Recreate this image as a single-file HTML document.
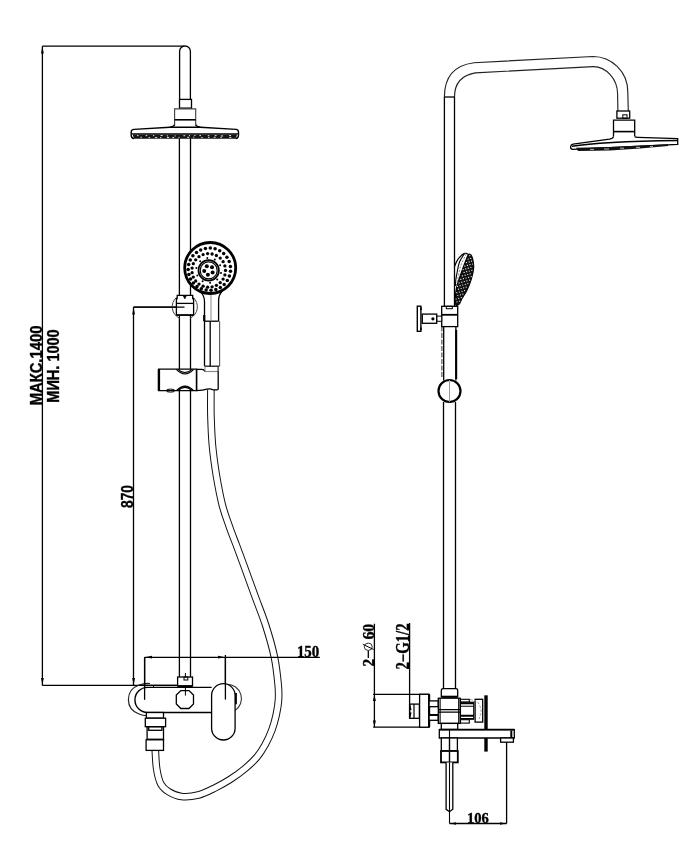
<!DOCTYPE html>
<html><head><meta charset="utf-8"><title>Shower system drawing</title>
<style>
html,body{margin:0;padding:0;background:#fff;width:686px;height:854px;overflow:hidden}
svg{display:block;will-change:transform}
.s{font-family:"Liberation Sans",sans-serif;font-weight:bold}
.r{font-family:"Liberation Serif",serif;font-weight:bold}
</style></head>
<body>
<svg width="686" height="854" viewBox="0 0 686 854">
<rect width="686" height="854" fill="#fff"/>
<g fill="none" stroke="#000" stroke-width="1.3">

<!-- ===== LEFT VIEW ===== -->
<!-- 1400 dimension -->
<path d="M42.4,46.2 H184 M42.4,46.2 V685.4 M42.4,685.4 H177.6"/>
<path d="M153.5,685.4 V687.4" stroke-width="1"/>
<!-- 870 dimension -->
<path d="M133.5,307.2 V685.4 M133.5,307.2 H184.5"/>
<!-- 150 dimension -->


<!-- hose (drawn first, behind) -->
<path id="hose" d="M210.9,388.5 C210.9,392.9 210.7,405.6 210.9,415 C211.2,424.4 211.5,435.0 212.4,445 C213.3,455.0 214.7,465.0 216.3,475 C218.0,485.0 220.1,496.3 222.3,505 C224.5,513.7 227.2,520.3 229.5,527 C231.8,533.7 233.9,538.7 236.3,545 C238.7,551.3 240.6,556.7 243.7,565 C246.8,573.3 250.9,585.0 254.6,595 C258.2,605.0 262.3,614.7 265.6,625 C268.9,635.3 272.3,647.0 274.4,657 C276.5,667.0 277.5,677.8 278.2,685 C278.9,692.2 278.8,695.0 278.5,700 C278.2,705.0 277.3,710.0 276.2,715 C275.1,720.0 273.8,725.0 271.9,730 C270.0,735.0 267.5,740.5 265,745 C262.5,749.5 260.3,753.1 257,757 C253.7,760.9 249.5,764.9 245,768.6 C240.5,772.4 235.0,776.3 230,779.5 C225.0,782.7 220.3,785.3 215,787.9 C209.7,790.5 203.9,793.6 198.3,795 C192.7,796.4 186.4,797.0 181.5,796.5 C176.6,796.0 172.3,793.9 168.8,791.8 C165.3,789.7 162.7,787.5 160.7,783.7 C158.7,779.9 157.6,774.5 156.7,769 C155.8,763.5 155.5,753.6 155.3,750.5" stroke="#111" stroke-width="7.6"/>
<path d="M210.9,388.5 C210.9,392.9 210.7,405.6 210.9,415 C211.2,424.4 211.5,435.0 212.4,445 C213.3,455.0 214.7,465.0 216.3,475 C218.0,485.0 220.1,496.3 222.3,505 C224.5,513.7 227.2,520.3 229.5,527 C231.8,533.7 233.9,538.7 236.3,545 C238.7,551.3 240.6,556.7 243.7,565 C246.8,573.3 250.9,585.0 254.6,595 C258.2,605.0 262.3,614.7 265.6,625 C268.9,635.3 272.3,647.0 274.4,657 C276.5,667.0 277.5,677.8 278.2,685 C278.9,692.2 278.8,695.0 278.5,700 C278.2,705.0 277.3,710.0 276.2,715 C275.1,720.0 273.8,725.0 271.9,730 C270.0,735.0 267.5,740.5 265,745 C262.5,749.5 260.3,753.1 257,757 C253.7,760.9 249.5,764.9 245,768.6 C240.5,772.4 235.0,776.3 230,779.5 C225.0,782.7 220.3,785.3 215,787.9 C209.7,790.5 203.9,793.6 198.3,795 C192.7,796.4 186.4,797.0 181.5,796.5 C176.6,796.0 172.3,793.9 168.8,791.8 C165.3,789.7 162.7,787.5 160.7,783.7 C158.7,779.9 157.6,774.5 156.7,769 C155.8,763.5 155.5,753.6 155.3,750.5" stroke="#fff" stroke-width="5.6"/>

<path d="M144.6,657.4 H319.8 M144.6,657.4 V699.8 M225.4,655 V699.6"/>
<!-- upper pipe with rounded top -->
<path d="M179.6,99.5 V51.4 A5.4,5.4 0 0 1 190.4,51.4 V99.5"/>
<!-- small nut -->
<rect x="179.5" y="99.4" width="12" height="8.7"/>
<!-- wide nut -->
<path d="M174.6,125.2 V108.8 H195.7 V125.2" stroke="#444" stroke-width="1.15"/>
<path d="M174.6,119.8 H195.7" stroke-width="1.6"/>
<path d="M174.6,124.8 Q174,126.6 170,127.2 M195.7,124.8 Q196.3,126.6 200.3,127.2"/>
<!-- disc -->
<path d="M134,138.6 Q131.2,138.2 131.2,135.2 V132 Q131.2,129.6 134,129.4 L170,127.2 H200.3 L236,129.4 Q238.5,129.6 238.5,132 V135.2 Q238.5,138.2 235.7,138.6" fill="#fff" stroke-width="1.4"/>
<path d="M131.5,133.9 H238.3" stroke-width="1.3"/>
<path d="M132.6,134.2 H237.2 L235.7,138.7 H134 Z" fill="#151515" stroke="none"/>
<g fill="#fff" stroke="none">
<rect x="137.0" y="135.2" width="1.5" height="0.9"/>
<rect x="145.7" y="135.2" width="1.6" height="0.9"/>
<rect x="153.0" y="135.2" width="1.2" height="0.9"/>
<rect x="160.6" y="135.0" width="2.0" height="0.9"/>
<rect x="166.8" y="135.4" width="1.1" height="0.9"/>
<rect x="174.6" y="135.5" width="1.1" height="0.9"/>
<rect x="183.4" y="135.3" width="1.8" height="0.9"/>
<rect x="189.0" y="135.2" width="1.0" height="0.9"/>
<rect x="194.3" y="135.0" width="1.2" height="0.9"/>
<rect x="199.4" y="135.2" width="1.6" height="0.9"/>
<rect x="207.8" y="135.3" width="1.6" height="0.9"/>
<rect x="214.8" y="135.2" width="1.8" height="0.9"/>
<rect x="220.9" y="135.5" width="2.2" height="0.9"/>
<rect x="229.2" y="135.1" width="1.8" height="0.9"/>
<rect x="140.5" y="136.7" width="1.3" height="0.9"/>
<rect x="148.6" y="137.2" width="1.5" height="0.9"/>
<rect x="155.1" y="137.2" width="2.1" height="0.9"/>
<rect x="160.1" y="137.2" width="1.3" height="0.9"/>
<rect x="167.0" y="136.9" width="2.2" height="0.9"/>
<rect x="172.3" y="137.2" width="1.8" height="0.9"/>
<rect x="178.4" y="136.9" width="1.1" height="0.9"/>
<rect x="187.2" y="136.8" width="1.9" height="0.9"/>
<rect x="193.2" y="136.7" width="1.1" height="0.9"/>
<rect x="201.4" y="137.0" width="1.2" height="0.9"/>
<rect x="208.2" y="137.1" width="1.2" height="0.9"/>
<rect x="213.7" y="136.8" width="1.8" height="0.9"/>
<rect x="220.4" y="136.9" width="1.3" height="0.9"/>
<rect x="229.3" y="136.9" width="2.0" height="0.9"/>
</g>
<!-- main pipe -->
<path d="M179.4,138.6 V677 M190.5,138.6 V677"/>

<!-- slider bracket -->
<path d="M176.4,297.4 A12.6,12.6 0 0 0 179.5,318.2 M193.2,297.4 A12.6,12.6 0 0 1 190.1,318.2" stroke="#444" stroke-width="1"/>
<path d="M176.4,314.9 V298.6 H177.2 V295.4 H192.7 V298.6 H193.6 V314.9 Z" fill="#fff"/>
<path d="M176.4,303.4 H193.6"/>
<path d="M183.2,295.6 L184.8,298.8 L186.4,295.6 Z" fill="#000" stroke-width="0.8"/>
<path d="M176.4,315.2 H193.6" stroke-width="1.4"/>
<path d="M133.5,307.2 H184.5"/>

<!-- hand shower handle -->
<path d="M199.4,291 Q204.5,295 204.5,301.5 V366.2 M222.3,291 Q218.6,295 218.6,300.5 V321.2" fill="#fff"/>
<path d="M204.5,321.2 H218.6"/>
<path d="M204.2,315 V321.2" stroke-width="2.2"/>
<path d="M211,295 V321.2" stroke="#888" stroke-width="1"/>
<path d="M210.2,321.2 V366.2"/>
<path d="M219.6,321.2 V366.2" stroke="#555" stroke-width="1.1"/>
<!-- hand shower head -->
<circle cx="210.2" cy="268" r="25.5" fill="#fff" stroke-width="2.8"/>
<g id="dots" fill="#000" stroke="none">
<circle cx="230.5" cy="271.3" r="1.75"/>
<circle cx="229.4" cy="276.1" r="1.75"/>
<circle cx="227.3" cy="280.6" r="1.75"/>
<circle cx="224.2" cy="284.4" r="1.75"/>
<circle cx="220.3" cy="287.4" r="1.75"/>
<circle cx="215.8" cy="289.4" r="1.75"/>
<circle cx="211.0" cy="290.3" r="1.75"/>
<circle cx="206.1" cy="290.1" r="1.75"/>
<circle cx="201.3" cy="288.8" r="1.75"/>
<circle cx="197.0" cy="286.4" r="1.75"/>
<circle cx="193.4" cy="283.1" r="1.75"/>
<circle cx="190.6" cy="279.0" r="1.75"/>
<circle cx="188.9" cy="274.4" r="1.75"/>
<circle cx="188.2" cy="269.5" r="1.75"/>
<circle cx="188.7" cy="264.6" r="1.75"/>
<circle cx="190.3" cy="260.0" r="1.75"/>
<circle cx="192.9" cy="255.8" r="1.75"/>
<circle cx="196.5" cy="252.4" r="1.75"/>
<circle cx="200.7" cy="249.9" r="1.75"/>
<circle cx="205.4" cy="248.4" r="1.75"/>
<circle cx="210.3" cy="248.0" r="1.75"/>
<circle cx="215.1" cy="248.8" r="1.75"/>
<circle cx="219.7" cy="250.7" r="1.75"/>
<circle cx="223.7" cy="253.5" r="1.75"/>
<circle cx="226.9" cy="257.3" r="1.75"/>
<circle cx="229.2" cy="261.6" r="1.75"/>
<circle cx="230.4" cy="266.4" r="1.75"/>
<circle cx="225.5" cy="270.4" r="1.65"/>
<circle cx="224.9" cy="274.9" r="1.65"/>
<circle cx="223.1" cy="279.1" r="1.65"/>
<circle cx="220.2" cy="282.7" r="1.65"/>
<circle cx="216.4" cy="285.3" r="1.65"/>
<circle cx="212.1" cy="286.8" r="1.65"/>
<circle cx="207.6" cy="287.2" r="1.65"/>
<circle cx="203.1" cy="286.2" r="1.65"/>
<circle cx="199.0" cy="284.1" r="1.65"/>
<circle cx="195.7" cy="281.0" r="1.65"/>
<circle cx="193.3" cy="277.1" r="1.65"/>
<circle cx="192.1" cy="272.7" r="1.65"/>
<circle cx="192.1" cy="268.1" r="1.65"/>
<circle cx="193.3" cy="263.7" r="1.65"/>
<circle cx="195.7" cy="259.8" r="1.65"/>
<circle cx="199.0" cy="256.7" r="1.65"/>
<circle cx="203.1" cy="254.6" r="1.65"/>
<circle cx="207.6" cy="253.6" r="1.65"/>
<circle cx="212.1" cy="254.0" r="1.65"/>
<circle cx="216.4" cy="255.5" r="1.65"/>
<circle cx="220.2" cy="258.1" r="1.65"/>
<circle cx="223.1" cy="261.7" r="1.65"/>
<circle cx="224.9" cy="265.9" r="1.65"/>
<circle cx="212.6" cy="272.6" r="2"/>
<circle cx="207.9" cy="274.8" r="2"/>
<circle cx="204.2" cy="271.0" r="2"/>
<circle cx="206.8" cy="266.3" r="2"/>
<circle cx="212.0" cy="267.3" r="2"/>
<circle cx="221.0" cy="272.9" r="1"/>
<circle cx="217.2" cy="279.6" r="1"/>
<circle cx="210.1" cy="282.8" r="1"/>
<circle cx="202.6" cy="281.3" r="1"/>
<circle cx="197.3" cy="275.6" r="1"/>
<circle cx="196.4" cy="267.9" r="1"/>
<circle cx="200.2" cy="261.2" r="1"/>
<circle cx="207.3" cy="258.0" r="1"/>
<circle cx="214.8" cy="259.5" r="1"/>
<circle cx="220.1" cy="265.2" r="1"/>
</g>
<circle cx="208.7" cy="270.4" r="10.2" stroke-width="1.7"/>
<circle cx="208.7" cy="270.4" r="8.5" stroke-width="1.2"/>

<!-- holder -->
<path d="M158.7,369.2 H196.6 V390.7 H158.7 Z" fill="#fff"/>
<path d="M158.9,369.2 V390.7" stroke-width="2.4"/>
<path d="M176.3,369.4 Q185,378.5 193.7,369.4 M178,369.4 Q185,376 192,369.4" stroke-width="1.1"/>
<path d="M176.3,390.6 Q185,381.6 193.7,390.6 M178,390.6 Q185,384 192,390.6" stroke-width="1.1"/>
<ellipse cx="170.5" cy="390.6" rx="4.5" ry="1.5" stroke-width="1"/>
<path d="M196.6,369.4 H202 Q204,369.4 205,371.5 H218.2 V389 Q218.2,389.8 217,389.8 H196.6" fill="#fff" stroke="none"/>
<path d="M196.6,369.4 H202 Q204,369.4 205,371.5" />
<path d="M205,371.5 H218.2" stroke="#888" stroke-width="1.2"/>
<path d="M218.2,366.5 V389 Q218.2,389.8 217,389.8 H213 Q210,388.2 207,389.2 Q203,390.6 196.6,390.6"/>
<path d="M196.6,369.4 V390.6" stroke-width="1.6"/>
<path d="M204.8,366.2 H219.4" stroke-width="1.2"/>
<path d="M205,371.5 V366.4 M218.6,371.5 V366.4" stroke="#777" stroke-width="0.9"/>

<!-- mixer (left view) -->
<path d="M185.4,673 V695.6" stroke-width="1"/>
<rect x="177.6" y="677" width="14.9" height="9" fill="#fff"/>
<rect x="184" y="677" width="3.8" height="3" stroke-width="1"/>
<path d="M150,683.5 Q144.6,683 139,685 Q128.4,689 128.4,699.4 Q128.4,710 139,714 Q143,715.6 146.4,715.6" stroke="#222" stroke-width="1.2"/>
<path d="M211.6,687.4 H147.5 A12.55,12.55 0 0 0 147.5,712.5 H211.6" fill="#fff" stroke-width="1.4"/>
<path d="M142,685.4 H177.6" stroke-width="1.3"/>
<path d="M177.6,686.2 H192.5" stroke-width="2"/>
<path d="M144.6,657.2 V699.8"/>
<path d="M180.8,690.6 H189 L193.5,695.1 V704 L189,708.5 H180.8 L176.3,704 V695.1 Z"/>
<path d="M185.4,688 V695.6" stroke-width="1"/>
<path d="M227,684.2 A14.4,14.4 0 0 1 235,710.6" stroke="#333" stroke-width="1.1"/>
<rect x="211.6" y="683.7" width="23.5" height="56.3" rx="11.75" fill="#fff"/>
<path d="M225.4,657 V699.6"/>
<path d="M236,693 V704.3" stroke-width="1.8"/>
<!-- connector -->
<rect x="146.4" y="712.5" width="17.1" height="5.7" fill="#fff"/>
<rect x="145.3" y="718.2" width="20.3" height="8.5" fill="#fff"/>
<rect x="147.1" y="726.7" width="16.4" height="13.1" fill="#fff"/>
<rect x="148.7" y="726.7" width="13.2" height="3.6"/>
<path d="M147.1,739.6 H163.5" stroke-width="2"/>
<rect x="146.1" y="739.8" width="17.4" height="10.6" fill="#fff"/>

<!-- ===== RIGHT VIEW ===== -->
<!-- pipe arm -->
<path d="M444.4,306.3 V97"/><path d="M444.4,97 Q444.4,66.5 474,62.7 L593.1,56.5 C611,56.5 627.8,71 627.8,92 L628.3,111" stroke="#222" stroke-width="1.15"/>
<path d="M454.5,306.3 V97"/><path d="M454.5,97 Q454.5,76.5 475.2,72.9 L593.1,66.6 C606,66.5 617.6,79 617.6,94 L617.9,111" stroke="#222" stroke-width="1.15"/>
<path d="M444.4,97 H454.5"/>
<!-- small nut -->
<rect x="616.9" y="111" width="12.8" height="7.2" fill="#fff"/>
<rect x="622.8" y="114.8" width="4.2" height="3.4" stroke-width="1"/>
<!-- big nut -->
<path d="M613.5,136.5 V120.2 H634.7 V136.5" fill="#fff"/>
<path d="M613.5,131.6 H634.7" stroke-width="1.6"/>
<!-- disc side -->
<path d="M572.6,149.4 Q570.4,149.2 570.6,146.8 Q570.8,144.6 573,144.2 L609.5,139.2 Q613.3,138.5 613.5,136.5 M634.7,136.5 Q635,137.4 638,137.4 L677.7,138.7 V144.3 L572.6,149.4" fill="#fff" stroke-width="1.3"/>
<path d="M572,146.3 Q600,141.5 677.7,140.5" stroke-width="1.5"/>
<path d="M576,147.8 L610,147.1 L668,144.3 L668,146 L640,148.6 L610,150.6 L578,151 Z" fill="#111" stroke="none"/>
<path d="M590,149.4 h4 M604,149 h5 M620,148.2 h4 M636,147.4 h4 M650,146.6 h3" stroke="#fff" stroke-width="0.7"/>
<!-- hand shower side -->
<path d="M468.4,254.6 C469.17,253.50 469.63,254.13 470.2,254.4 C470.77,254.67 471.28,254.93 471.8,256.2 C472.32,257.47 473.00,259.87 473.3,262 C473.60,264.13 473.95,266.07 473.6,269 C473.25,271.93 472.30,276.07 471.2,279.6 C470.10,283.13 468.53,287.03 467,290.2 C465.47,293.37 463.30,296.27 462,298.6 C460.70,300.93 460.32,303.20 459.2,304.2 C458.08,305.20 455.92,306.13 455.3,304.6 C454.68,303.07 455.20,298.23 455.5,295 C455.80,291.77 456.05,289.17 457.1,285.2 C458.15,281.23 460.38,275.23 461.8,271.2 C463.22,267.17 464.50,263.77 465.6,261 C466.70,258.23 467.63,255.70 468.4,254.6 Z" fill="#111" stroke-width="1.1"/>
<path d="M464.6,253.4 Q458,256.5 454.6,266.3" stroke-width="1.2"/>
<path d="M464.6,253.4 C463.75,254.83 460.75,258.80 459.5,262 C458.25,265.20 457.72,269.60 457.1,272.6 C456.48,275.60 456.08,277.77 455.8,280 C455.52,282.23 455.47,285.00 455.4,286" stroke-width="1.1"/>
<path d="M466.4,254 C465.58,255.58 462.70,260.50 461.5,263.5 C460.30,266.50 460.02,268.42 459.2,272 C458.38,275.58 457.03,282.83 456.6,285" stroke="#666" stroke-width="0.8" stroke-dasharray="2,1.5"/>
<path d="M464.6,253.4 Q466.8,253 468.4,254.6" stroke-width="1.1"/>
<g id="hsdots" fill="#fff" stroke="none">
<circle cx="456.1" cy="299.0" r="0.62"/>
<circle cx="457.0" cy="301.8" r="0.62"/>
<circle cx="456.8" cy="292.7" r="0.62"/>
<circle cx="457.8" cy="295.5" r="0.62"/>
<circle cx="458.7" cy="298.3" r="0.62"/>
<circle cx="459.6" cy="301.1" r="0.62"/>
<circle cx="457.5" cy="286.4" r="0.62"/>
<circle cx="458.5" cy="289.2" r="0.62"/>
<circle cx="459.4" cy="292.0" r="0.62"/>
<circle cx="460.4" cy="294.8" r="0.62"/>
<circle cx="461.3" cy="297.6" r="0.62"/>
<circle cx="459.1" cy="282.9" r="0.62"/>
<circle cx="460.1" cy="285.7" r="0.62"/>
<circle cx="461.1" cy="288.5" r="0.62"/>
<circle cx="462.0" cy="291.3" r="0.62"/>
<circle cx="462.9" cy="294.1" r="0.62"/>
<circle cx="460.8" cy="279.4" r="0.62"/>
<circle cx="461.8" cy="282.2" r="0.62"/>
<circle cx="462.7" cy="285.0" r="0.62"/>
<circle cx="463.7" cy="287.8" r="0.62"/>
<circle cx="464.6" cy="290.6" r="0.62"/>
<circle cx="462.4" cy="275.9" r="0.62"/>
<circle cx="463.4" cy="278.7" r="0.62"/>
<circle cx="464.3" cy="281.5" r="0.62"/>
<circle cx="465.3" cy="284.3" r="0.62"/>
<circle cx="466.2" cy="287.1" r="0.62"/>
<circle cx="463.1" cy="269.6" r="0.62"/>
<circle cx="464.1" cy="272.4" r="0.62"/>
<circle cx="465.1" cy="275.2" r="0.62"/>
<circle cx="466.0" cy="278.0" r="0.62"/>
<circle cx="466.9" cy="280.8" r="0.62"/>
<circle cx="467.9" cy="283.6" r="0.62"/>
<circle cx="464.8" cy="266.1" r="0.62"/>
<circle cx="465.8" cy="268.9" r="0.62"/>
<circle cx="466.7" cy="271.7" r="0.62"/>
<circle cx="467.7" cy="274.5" r="0.62"/>
<circle cx="468.6" cy="277.3" r="0.62"/>
<circle cx="469.6" cy="280.1" r="0.62"/>
<circle cx="466.4" cy="262.6" r="0.62"/>
<circle cx="467.4" cy="265.4" r="0.62"/>
<circle cx="468.3" cy="268.2" r="0.62"/>
<circle cx="469.3" cy="271.0" r="0.62"/>
<circle cx="470.2" cy="273.8" r="0.62"/>
<circle cx="471.2" cy="276.6" r="0.62"/>
<circle cx="468.1" cy="259.1" r="0.62"/>
<circle cx="469.1" cy="261.9" r="0.62"/>
<circle cx="470.0" cy="264.7" r="0.62"/>
<circle cx="470.9" cy="267.5" r="0.62"/>
<circle cx="471.9" cy="270.3" r="0.62"/>
<circle cx="469.8" cy="255.6" r="0.62"/>
<circle cx="470.7" cy="258.4" r="0.62"/>
<circle cx="471.6" cy="261.2" r="0.62"/>
<circle cx="472.6" cy="264.0" r="0.62"/>
</g>

<!-- pipe lower + handle -->
<path d="M443.5,402 V688.7 M455.5,402 V688.7"/>
<path d="M443.7,326.6 V380.5 M455.9,326.6 V380.5" />
<path d="M456.2,330 V379" stroke-width="2"/>
<path d="M441.9,326.6 V378" stroke="#444" stroke-width="1.1" stroke-dasharray="5,1.5"/>
<circle cx="449.5" cy="391" r="11" fill="#fff" stroke-width="2.2"/>
<path d="M449.5,380 V402" stroke="#999" stroke-width="1"/>

<!-- bracket + knob -->
<rect x="441.7" y="306.3" width="16" height="20.3" fill="#fff"/>
<path d="M441.7,314.8 H457.7" stroke-width="1.8"/>
<rect x="446.3" y="306.3" width="6" height="2.4" stroke-width="1"/>
<rect x="436.7" y="316.1" width="5" height="5.2" fill="#fff" stroke-width="1"/>
<rect x="422.3" y="314.1" width="14.4" height="9.2" fill="#fff"/>
<circle cx="432.9" cy="318.8" r="1.6" fill="#000" stroke="none"/>
<rect x="417.3" y="306.2" width="3.6" height="25.1" fill="#fff" stroke-width="1.4"/>
<path d="M421,307.5 V310 M421,327.5 V330" stroke-width="1.6"/>

<!-- mixer right view -->
<!-- dims -->
<path d="M374.4,623.7 V727.2 M409.6,623 V718.4"/>
<path d="M373.2,694.3 H429.1 M373.2,727.2 H429.1"/>
<rect x="409.6" y="704.1" width="9.8" height="14.2"/>
<path d="M414,704.1 V718.3" stroke-width="1.2"/>
<rect x="419.6" y="694.3" width="9.5" height="32.9" fill="#fff"/>
<path d="M429.1,694.3 V727.2" stroke-width="2.2"/>
<!-- left connectors -->
<rect x="429.1" y="700.9" width="9.2" height="5.8" fill="#fff"/>
<rect x="429.1" y="714.9" width="9.2" height="5.4" fill="#fff"/>
<path d="M429.1,715 H438.3" stroke-width="2"/>
<!-- top nut -->
<path d="M441.3,697.3 V690.5 Q441.3,688.7 443.3,688.7 H455.7 Q457.7,688.7 457.7,690.5 V697.3" fill="#fff"/>
<path d="M441.3,696.8 H457.7" stroke-width="2.2"/>
<!-- body -->
<rect x="438.3" y="698.2" width="21.9" height="25.2" fill="#fff"/>
<path d="M440.1,698.2 V723.4 M458.7,698.2 V723.4 M438.3,709.6 H460.2 M438.3,712.1 H460.2" stroke-width="1.1"/>
<!-- right connectors -->
<rect x="460.5" y="699.3" width="8.8" height="2.8" fill="#fff" stroke-width="1.1"/>
<rect x="460.5" y="702.2" width="13.2" height="17" fill="#fff" stroke-width="1.1"/>
<path d="M460.5,703.2 H473.7 M460.5,715.7 H473.7" stroke-width="2"/>
<path d="M460.5,706.3 H473.7 M460.5,718.6 H473.7" stroke-width="1.1"/>
<rect x="460.5" y="719.7" width="8.8" height="3.4" fill="#fff" stroke-width="1.1"/>
<rect x="475.1" y="699.3" width="7.6" height="22.8" fill="#fff"/>
<path d="M470,699.5 Q477,700 479,704 Q483,711 479,719" stroke="#999" stroke-width="1" stroke-dasharray="2.5,1.5"/>
<!-- wall -->
<path d="M486,695.3 V751.6" stroke-width="3.4"/>
<!-- neck & spout -->
<rect x="441.3" y="723.4" width="16.4" height="6.1" fill="#fff"/>
<path d="M439.3,729.6 H514.3 V738 H439.3 Z" fill="#fff"/>
<path d="M439.3,729.6 H514.3" stroke-width="1.8"/>
<path d="M511.3,730.5 V738" stroke-width="2"/>
<path d="M449.5,729.6 V740" stroke-width="1.1"/>
<rect x="500.6" y="738" width="12.8" height="4.2" fill="#fff"/>
<!-- below spout -->
<rect x="441.3" y="738" width="16.1" height="13" fill="#fff"/>
<rect x="441" y="751" width="16.8" height="11.4" fill="#fff" stroke-width="1.8"/>
<path d="M449.5,738 V762.4" stroke-width="1.4"/>
<path d="M446.1,762.4 V809.3 L449.5,811.8 L452.8,809.3 V762.4" fill="#fff"/>
<path d="M449.5,762.4 V823.5" stroke-width="1.1"/>
<!-- 106 dim -->
<path d="M449.5,823.5 H506.6 M506.6,742.2 V823.5"/>

</g>

<!-- arrowheads -->
<g fill="#000" stroke="none">
<path d="M42.4,46.6 L41,53.5 H43.8 Z"/>
<path d="M42.4,685 L41,678 H43.8 Z"/>
<path d="M133.6,307.6 L132.2,314.5 H135 Z"/>
<path d="M133.6,685 L132.2,678 H135 Z"/>
<path d="M145,657.2 L152,655.8 V658.6 Z"/>
<path d="M225,657.2 L218,655.8 V658.6 Z"/>
<path d="M374.4,694.8 L372.9,701 H375.9 Z"/>
<path d="M374.4,726.7 L372.9,720.5 H375.9 Z"/>
<path d="M410.2,704.6 L409,710 H411.6 Z"/>
<path d="M410.2,717.8 L409,712.4 H411.6 Z"/>
<path d="M450,823.5 L456,822.3 V824.7 Z"/>
<path d="M506.1,823.5 L500,822.3 V824.7 Z"/>
</g>

<!-- texts -->
<g fill="#000" stroke="#000" stroke-width="0.35">
<text class="s" font-size="16.8" transform="translate(42.4,405.3) rotate(-90)" textLength="79.8" lengthAdjust="spacingAndGlyphs">МАКС.1400</text>
<text class="s" font-size="16" transform="translate(59.4,402.7) rotate(-90)" textLength="73.4" lengthAdjust="spacingAndGlyphs">МИН. 1000</text>
<text class="s" font-size="16.6" transform="translate(133.2,508) rotate(-90)" textLength="23" lengthAdjust="spacingAndGlyphs">870</text>
<text class="r" font-size="16.4" x="296.9" y="656.9" textLength="22.4" lengthAdjust="spacingAndGlyphs">150</text>
<text class="r" font-size="15.2" x="467" y="822.6" textLength="21.9" lengthAdjust="spacingAndGlyphs">106</text>
<text class="r" font-size="16.8" transform="translate(374,666.4) rotate(-90)" textLength="7.6" lengthAdjust="spacingAndGlyphs">2</text>
<text class="r" font-size="16.8" transform="translate(374,639.6) rotate(-90)" textLength="15.9" lengthAdjust="spacingAndGlyphs">60</text>
<text class="r" font-size="18" transform="translate(409,669.6) rotate(-90)" textLength="46.2" lengthAdjust="spacingAndGlyphs">2−G1/2</text>
</g>
<g fill="none" stroke="#000">
<path d="M368.3,657.9 V650.6" stroke-width="1.3"/>
<ellipse cx="368.25" cy="646.75" rx="4" ry="3.65" stroke="#333" stroke-width="1"/>
<path d="M362.8,644.3 L373.7,649.5" stroke-width="1"/>
</g>
</svg>
</body></html>
